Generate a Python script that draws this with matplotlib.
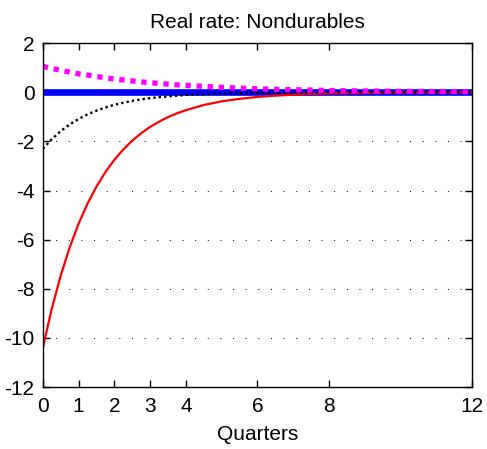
import matplotlib
matplotlib.use("Agg")
import matplotlib.pyplot as plt

plt.rcParams['font.family'] = ['Liberation Sans', 'DejaVu Sans']
plt.rcParams['axes.unicode_minus'] = False

quarters = [0, 0.25, 0.5, 0.75, 1, 1.25, 1.5, 1.75, 2, 2.25, 2.5, 2.75, 3,
            3.25, 3.5, 3.75, 4, 4.5, 5, 5.5, 6, 6.5, 7, 7.5, 8, 9, 10, 11, 12]
baseline = [0.0] * len(quarters)
solid_red = [-10.40, -8.81, -7.46, -6.32, -5.35, -4.53, -3.84, -3.25, -2.75,
             -2.33, -1.97, -1.67, -1.41, -1.20, -1.01, -0.86, -0.73, -0.52,
             -0.37, -0.27, -0.19, -0.14, -0.10, -0.07, -0.05, -0.03, -0.01,
             -0.01, 0.0]
dotted_black = [-2.30, -1.91, -1.58, -1.31, -1.09, -0.90, -0.75, -0.62, -0.51,
                -0.43, -0.35, -0.29, -0.24, -0.20, -0.17, -0.14, -0.11, -0.08,
                -0.05, -0.04, -0.03, -0.02, -0.01, -0.01, 0.0, 0.0, 0.0, 0.0,
                0.0]
dashed_magenta = [1.05, 0.97, 0.89, 0.82, 0.75, 0.70, 0.64, 0.59, 0.54, 0.50,
                  0.46, 0.42, 0.39, 0.36, 0.33, 0.30, 0.28, 0.24, 0.20, 0.17,
                  0.14, 0.12, 0.10, 0.09, 0.07, 0.05, 0.04, 0.03, 0.02]
xticks = [0, 1, 2, 3, 4, 6, 8, 12]
yticks = [-12, -10, -8, -6, -4, -2, 0, 2]

fig = plt.figure(figsize=(4.87, 4.49), dpi=100)
ax = fig.add_axes([0.088, 0.138, 0.881, 0.766])

ax.plot(quarters, baseline, color='#0000ff', lw=4.8, solid_capstyle='butt')
ax.plot(quarters, solid_red, color='#ff0000', lw=1.6)
ax.plot(quarters, dotted_black, color='black', lw=1.7, linestyle=(0, (1, 1.3)))
ax.plot(quarters, dashed_magenta, color='#ff00ff', lw=3.8, linestyle=(0, (1, 1.1)))

ax.set_xlim(0, 12)
ax.set_ylim(-12, 2)
ax.set_xticks(xticks)
ax.set_yticks(yticks)
ax.yaxis.grid(True, color='black', lw=0.7, linestyle=(0, (1, 12)))
ax.tick_params(direction='in', top=True, right=True, length=5, width=1,
               labelsize=15)
ax.tick_params(axis='x', pad=7)
ax.tick_params(axis='y', pad=6)
for s in ax.spines.values():
    s.set_linewidth(1.0)

ax.set_xlabel('Quarters', fontsize=15, labelpad=7)
ax.set_title('Real rate: Nondurables', fontsize=15, pad=11)

fig.savefig('out.png', dpi=100)
